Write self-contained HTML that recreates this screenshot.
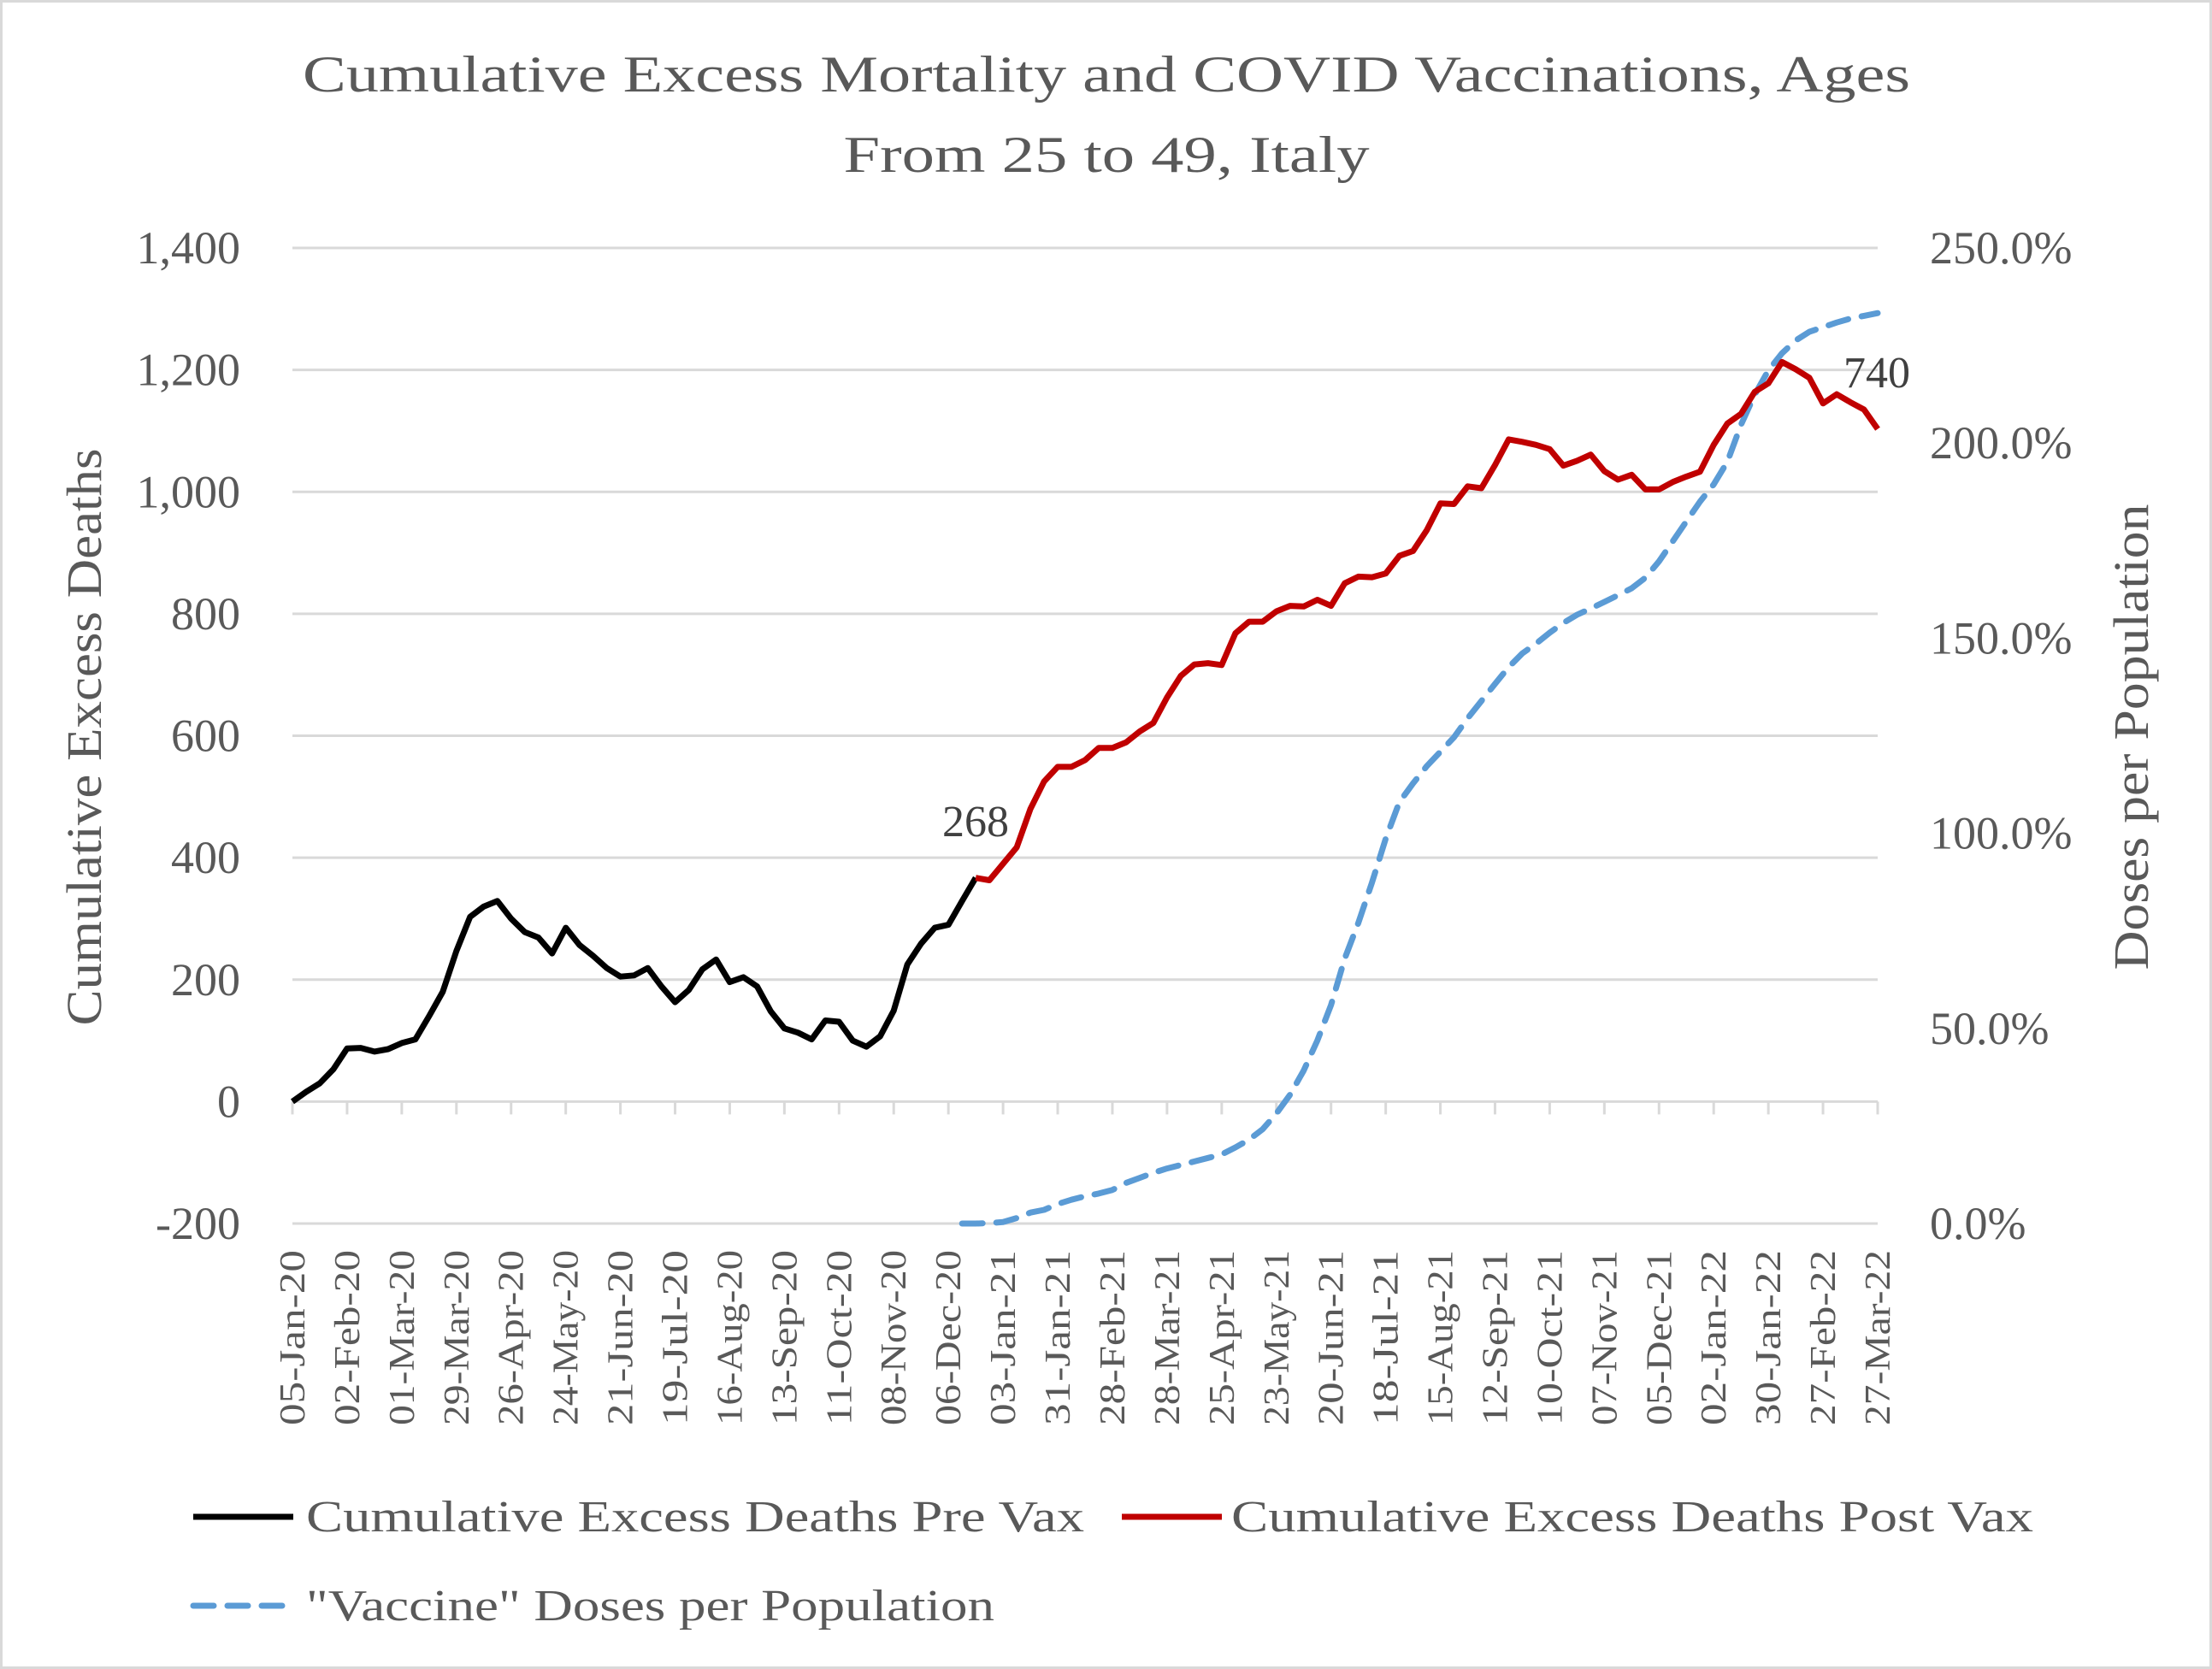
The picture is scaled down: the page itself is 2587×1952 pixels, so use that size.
<!DOCTYPE html>
<html><head><meta charset="utf-8"><style>
html,body{margin:0;padding:0;background:#fff;}
svg{display:block;font-family:"Liberation Serif",serif;}
</style></head><body>
<svg id="chart" width="2587" height="1952" viewBox="0 0 2587 1952" xmlns="http://www.w3.org/2000/svg">
<rect x="1.5" y="1.5" width="2584" height="1949" fill="#fff" stroke="#d9d9d9" stroke-width="3"/>
<g fill="#595959" font-size="60" text-anchor="middle">
<text x="1294" y="107" textLength="1880" lengthAdjust="spacingAndGlyphs">Cumulative Excess Mortality and COVID Vaccinations, Ages</text>
<text x="1294" y="201" textLength="615" lengthAdjust="spacingAndGlyphs">From 25 to 49, Italy</text>
</g>
<g id="grid"></g>
<g id="xticks"></g>
<g id="yleft"></g>
<g id="yright"></g>
<text transform="translate(118,862) rotate(-90)" text-anchor="middle" fill="#595959" font-size="58" textLength="675" lengthAdjust="spacingAndGlyphs">Cumulative Excess Deaths</text>
<text transform="translate(2512,862) rotate(-90)" text-anchor="middle" fill="#595959" font-size="58" textLength="545" lengthAdjust="spacingAndGlyphs">Doses per Population</text>
<g id="series"></g>
<text x="1141" y="978" text-anchor="middle" fill="#404040" font-size="52">268</text>
<text x="2195" y="453" text-anchor="middle" fill="#404040" font-size="52">740</text>
<g font-size="52" fill="#595959">
<line x1="226" y1="1774" x2="343" y2="1774" stroke="#000" stroke-width="7"/>
<text x="358" y="1791" textLength="910" lengthAdjust="spacingAndGlyphs">Cumulative Excess Deaths Pre Vax</text>
<line x1="1312" y1="1774" x2="1429" y2="1774" stroke="#c00000" stroke-width="7"/>
<text x="1440" y="1791" textLength="938" lengthAdjust="spacingAndGlyphs">Cumulative Excess Deaths Post Vax</text>
<line x1="226" y1="1878" x2="343" y2="1878" stroke="#5b9bd5" stroke-width="7" stroke-dasharray="24 16" stroke-linecap="round"/>
<text x="358" y="1895" textLength="805" lengthAdjust="spacingAndGlyphs">"Vaccine" Doses per Population</text>
</g>
</svg>
<script>
const preVax = [0,16,30,53,87,88,82,86,96,102,140,180,247,303,320,329,300,278,269,243,285,257,239,219,205,207,219,189,163,183,217,233,196,204,189,148,120,113,102,133,131,100,90,107,149,225,259,285,290,329,367];
const postVax = [367,363,390,417,480,525,549,549,560,580,580,589,607,621,663,698,717,719,716,768,787,787,804,813,812,823,813,850,861,860,866,895,903,937,981,980,1009,1006,1044,1086,1082,1077,1070,1043,1051,1061,1034,1020,1028,1004,1004,1016,1025,1033,1077,1112,1128,1164,1178,1213,1201,1187,1145,1160,1147,1135,1103];
const postStart = 50;
const doses = [0,0,0.1,0.4,1.4,2.8,3.5,5,6.1,7,7.7,8.6,10.4,11.7,13,14.1,15,15.9,16.8,17.7,19.5,21.5,24.2,28.2,33,39.2,46.9,56,67.9,77.1,87.4,98.6,108,112.8,117.2,120.9,124.6,129.5,133.9,138.3,142.6,146.1,148.6,151.4,153.9,156,157.6,159.3,161,162.8,165.5,169.7,174.8,179.9,185,189.4,195.2,204.7,212.4,218.6,223,226.3,228.5,229.7,230.9,231.9,232.6,233.3];
const dosesStart = 49;
const xLabels = ["05-Jan-20","02-Feb-20","01-Mar-20","29-Mar-20","26-Apr-20","24-May-20","21-Jun-20","19-Jul-20","16-Aug-20","13-Sep-20","11-Oct-20","08-Nov-20","06-Dec-20","03-Jan-21","31-Jan-21","28-Feb-21","28-Mar-21","25-Apr-21","23-May-21","20-Jun-21","18-Jul-21","15-Aug-21","12-Sep-21","10-Oct-21","07-Nov-21","05-Dec-21","02-Jan-22","30-Jan-22","27-Feb-22","27-Mar-22"];
const leftTicks = [-200,0,200,400,600,800,1000,1200,1400];
const leftTickLabels = ["-200","0","200","400","600","800","1,000","1,200","1,400"];
const rightTicks = [0,50,100,150,200,250];
const rightTickLabels = ["0.0%","50.0%","100.0%","150.0%","200.0%","250.0%"];
const nPoints = 117;
const labelEvery = 4;

const NS="http://www.w3.org/2000/svg";
const X0=342,X1=2196,YTOP=290,YBOT=1431;
function xs(i){return X0+(X1-X0)*i/(nPoints-1);}
function yl(v){return YBOT-(v+200)/1600*(YBOT-YTOP);}
function yr(p){return YBOT-p/250*(YBOT-YTOP);}
function mk(tag,attrs,parent){const e=document.createElementNS(NS,tag);for(const k in attrs)e.setAttribute(k,attrs[k]);parent.appendChild(e);return e;}

const grid=document.getElementById('grid');
const yleft=document.getElementById('yleft');
leftTicks.forEach((v,k)=>{
  const l=mk('line',{x1:X0,x2:X1,y1:yl(v),y2:yl(v),stroke:'#d9d9d9','stroke-width':3},grid);
  
  
  const t=mk('text',{x:281,y:yl(v)+18,'text-anchor':'end',fill:'#595959','font-size':54},yleft);
  
  
  t.textContent=leftTickLabels[k];
});
const yright=document.getElementById('yright');
rightTicks.forEach((p,k)=>{
  const t=mk('text',{x:2257,y:yr(p)+18,'text-anchor':'start',fill:'#595959','font-size':54},yright);
  
  
  t.textContent=rightTickLabels[k];
});
const xt=document.getElementById('xticks');
const y0=yl(0);
xLabels.forEach((lab,k)=>{
  const i=k*labelEvery;const x=xs(i);
  const tk=mk('line',{x1:x,x2:x,y1:y0,y2:y0+15,stroke:'#d9d9d9','stroke-width':3},xt);
  
  
  const t=mk('text',{transform:`translate(${x+14},1462) rotate(-90)`,'text-anchor':'end',fill:'#595959','font-size':42,textLength:205,lengthAdjust:'spacingAndGlyphs'},xt);
  
  
  t.textContent=lab;
});
const ser=document.getElementById('series');
function pts(arr,start,f){return arr.map((v,j)=>xs(start+j).toFixed(1)+','+f(v).toFixed(1)).join(' ');}
const pb=mk('polyline',{points:pts(doses,dosesStart,yr),fill:'none',stroke:'#5b9bd5','stroke-width':7,'stroke-dasharray':'24 16','stroke-linecap':'round','stroke-linejoin':'round'},ser);


const p1=mk('polyline',{points:pts(preVax,0,yl),fill:'none',stroke:'#000','stroke-width':7,'stroke-linejoin':'round'},ser);


const p2=mk('polyline',{points:pts(postVax,postStart,yl),fill:'none',stroke:'#c00000','stroke-width':7,'stroke-linejoin':'round'},ser);


</script>
</body></html>
